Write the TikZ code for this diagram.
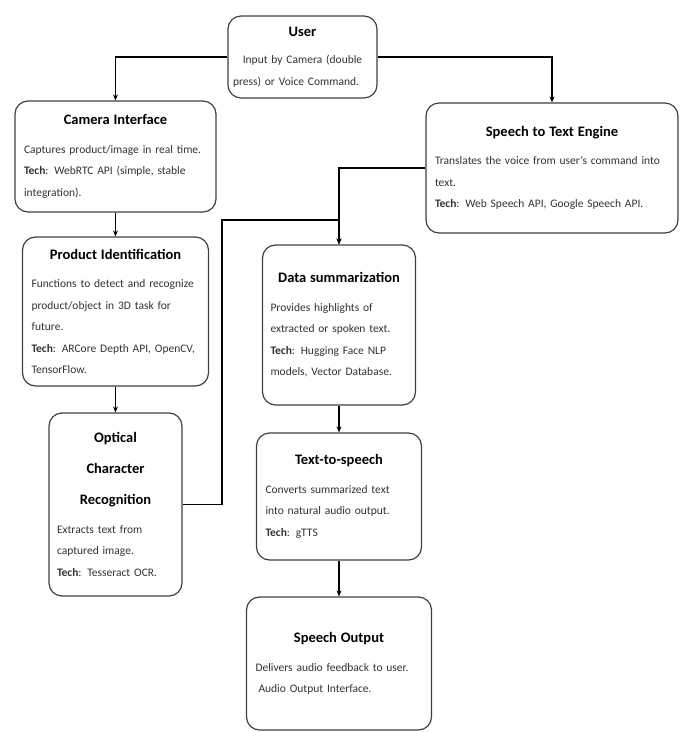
\documentclass[tikz,border=0pt]{standalone}
\usepackage{fontspec}
\setmainfont{Carlito}
\usetikzlibrary{arrows.meta,positioning}

\newcommand{\bodysize}{\fontsize{11.5}{21.5}\selectfont}
\newcommand{\heading}[1]{{\centering\fontsize{14.5}{31}\selectfont\bfseries\color{black}#1\par}\vspace{7pt}}

\tikzset{
	block/.style={draw=black!75, line width=1.2pt, rounded corners=13pt, fill=white,
		align=left, inner sep=0pt, text=black!80, font=\bodysize},
	link/.style={line width=1.5pt, -{Stealth[length=6pt,width=5pt]}},
}

\begin{document}
\begin{tikzpicture}[x=1pt,y=-1pt]
	\useasboundingbox (0,0) rectangle (684,732);
	% boxes
	\node[block, minimum width=149pt, minimum height=82pt, text width=139pt] (user) at (302.5,57)
	{{\centering\fontsize{14.5}{20}\selectfont\bfseries\color{black}User\par}\vspace{2pt}
	 \centering\fontsize{11.5}{25}\selectfont Input by Camera (double\\ press) or Voice Command.};
	\node[block, minimum width=201pt, minimum height=111pt, text width=183pt] (camera) at (115.5,156.5)
	{\heading{Camera Interface}Captures product/image in real time.\\ \textbf{Tech}: WebRTC API (simple, stable\\ integration).};
	\node[block, minimum width=252pt, minimum height=130pt, text width=234pt] (stt) at (552,168)
	{\heading{Speech to Text Engine}Translates the voice from user’s command into\\ text.\\ \textbf{Tech}: Web Speech API, Google Speech API.};
	\node[block, minimum width=186pt, minimum height=149pt, text width=168pt] (product) at (115.5,311.5)
	{\heading{Product Identification}Functions to detect and recognize\\ product/object in 3D task for\\ future.\\ \textbf{Tech}: ARCore Depth API, OpenCV,\\ TensorFlow.};
	\node[block, minimum width=153pt, minimum height=160pt, text width=137pt] (data) at (339,325)
	{\heading{Data summarization}Provides highlights of\\ extracted or spoken text.\\ \textbf{Tech}: Hugging Face NLP\\ models, Vector Database.};
	\node[block, minimum width=133pt, minimum height=183pt, text width=117pt] (ocr) at (115.5,504.5)
	{\heading{Optical\\ Character\\ Recognition}Extracts text from\\ captured image.\\ \textbf{Tech}: Tesseract OCR.};
	\node[block, minimum width=165pt, minimum height=127pt, text width=147pt] (tts) at (339,496.5)
	{\heading{Text-to-speech}Converts summarized text\\ into natural audio output.\\ \textbf{Tech}: gTTS};
	\node[block, minimum width=185pt, minimum height=133pt, text width=167pt] (out) at (339,663.5)
	{\heading{Speech Output}Delivers audio feedback to user.\\ \hspace*{3pt}Audio Output Interface.};
	% connectors
	\coordinate (jog) at (222,220);
	\draw[link] (user.west) -| (camera.north);
	\draw[link] (user.east) -| (stt.north);
	\draw[link] (camera.south) -- (product.north);
	\draw[link] (product.south) -- (ocr.north);
	\draw[link] (stt.west) -| (data.north);
	\draw[link] (ocr.east) -| (jog) -| (data.north);
	\draw[link] (data.south) -- (tts.north);
	\draw[link] (tts.south) -- (out.north);
\end{tikzpicture}
\end{document}
